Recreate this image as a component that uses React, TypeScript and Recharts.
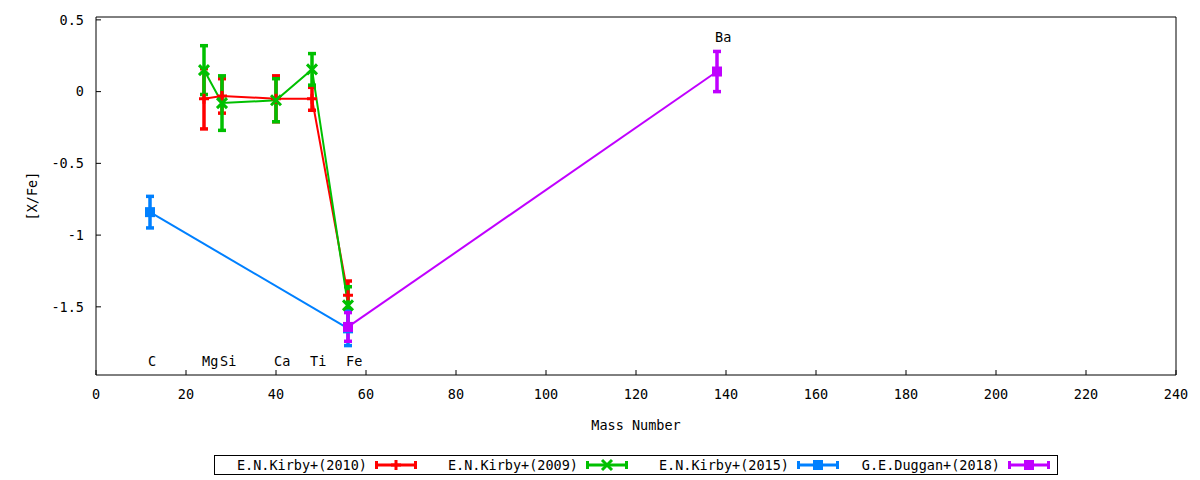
import { ComposedChart, Line, Scatter, XAxis, YAxis, ErrorBar, Label } from 'recharts'

const FONT = '"DejaVu Sans Mono", monospace'

// element labels drawn along the bottom (and Ba above its point)
const elementNames = ['C', 'Mg', 'Si', 'Ca', 'Ti', 'Fe', 'Ba']
const elementMass = [12, 24, 28, 40, 48, 56, 138]
const elementLabelY = [-1.88, -1.88, -1.88, -1.88, -1.88, -1.88, 0.38]

// E.N.Kirby+(2010): Mg Si Ca Ti Fe
const kirby2010Mass = [24, 28, 40, 48, 56]
const kirby2010Val = [-0.05, -0.03, -0.05, -0.05, -1.42]
const kirby2010Err = [0.21, 0.12, 0.16, 0.08, 0.1]

// E.N.Kirby+(2009): Mg Si Ca Ti Fe
const kirby2009Mass = [24, 28, 40, 48, 56]
const kirby2009Val = [0.15, -0.08, -0.06, 0.155, -1.49]
const kirby2009Err = [0.17, 0.19, 0.15, 0.11, 0.13]

// E.N.Kirby+(2015): C Fe
const kirby2015Mass = [12, 56]
const kirby2015Val = [-0.84, -1.65]
const kirby2015Err = [0.11, 0.12]

// G.E.Duggan+(2018): Fe Ba
const duggan2018Mass = [56, 138]
const duggan2018Val = [-1.64, 0.14]
const duggan2018Err = [0.1, 0.14]

const xTicks = [0, 20, 40, 60, 80, 100, 120, 140, 160, 180, 200, 220, 240]
const yTicks = [0.5, 0, -0.5, -1, -1.5]

const toRows = (xs: number[], ys: number[], es: number[]) =>
  xs.map((x, i) => ({ x, y: ys[i], err: es[i] }))

type Marker = 'plus' | 'cross' | 'square'

const series = [
  { name: 'E.N.Kirby+(2010)', color: '#ff0000', marker: 'plus' as Marker, data: toRows(kirby2010Mass, kirby2010Val, kirby2010Err) },
  { name: 'E.N.Kirby+(2009)', color: '#00c000', marker: 'cross' as Marker, data: toRows(kirby2009Mass, kirby2009Val, kirby2009Err) },
  { name: 'E.N.Kirby+(2015)', color: '#0080ff', marker: 'square' as Marker, data: toRows(kirby2015Mass, kirby2015Val, kirby2015Err) },
  { name: 'G.E.Duggan+(2018)', color: '#c000ff', marker: 'square' as Marker, data: toRows(duggan2018Mass, duggan2018Val, duggan2018Err) },
]

const labelRows = elementNames.map((name, i) => ({ name, x: elementMass[i], y: elementLabelY[i] }))

function markerPath(marker: Marker, cx: number, cy: number, color: string, key?: string) {
  if (marker === 'square') {
    return <rect key={key} x={cx - 5} y={cy - 5} width={10} height={10} fill={color} />
  }
  const d =
    marker === 'plus'
      ? `M${cx - 5},${cy}H${cx + 5}M${cx},${cy - 5}V${cy + 5}`
      : `M${cx - 5},${cy - 5}L${cx + 5},${cy + 5}M${cx + 5},${cy - 5}L${cx - 5},${cy + 5}`
  return <path key={key} d={d} stroke={color} strokeWidth={3} fill="none" />
}

const tickStyle = { fill: '#000', fontSize: 13.5, fontFamily: FONT }

function LegendBox() {
  const left = 214
  const step = 211
  return (
    <svg width={1200} height={480} style={{ position: 'absolute', left: 0, top: 0, pointerEvents: 'none' }}>
      <rect x={214.5} y={455.5} width={843} height={19} fill="none" stroke="#000" strokeWidth={1} />
      {series.map((s, i) => {
        const sx = left + 161 + i * step
        const cy = 465
        return (
          <g key={s.name}>
            <text x={sx - 8} y={cy} textAnchor="end" dominantBaseline="central" fontFamily={FONT} fontSize={13.5} fill="#000">
              {s.name}
            </text>
            <line x1={sx} y1={cy} x2={sx + 42} y2={cy} stroke={s.color} strokeWidth={3} />
            <line x1={sx + 1.5} y1={cy - 4} x2={sx + 1.5} y2={cy + 4} stroke={s.color} strokeWidth={3} />
            <line x1={sx + 40.5} y1={cy - 4} x2={sx + 40.5} y2={cy + 4} stroke={s.color} strokeWidth={3} />
            {markerPath(s.marker, sx + 21, cy, s.color)}
          </g>
        )
      })}
    </svg>
  )
}

export default function App() {
  return (
    <div style={{ position: 'relative', width: 1200, height: 480 }}>
      <style>{'body{margin:0;background:#fff}'}</style>
      <ComposedChart width={1200} height={480} margin={{ top: 0, right: 0, bottom: 45, left: 0 }}>
        <XAxis
          xAxisId={0}
          dataKey="x"
          type="number"
          domain={[0, 240]}
          ticks={xTicks}
          allowDataOverflow
          height={60}
          tickSize={-5}
          tickMargin={19}
          tick={tickStyle}
          stroke="#000"
          interval={0}
        >
          <Label value="Mass Number" position="insideBottom" offset={5} style={{ fontFamily: FONT, fontSize: 13.5, fill: '#000' }} />
        </XAxis>
        <XAxis
          xAxisId="top"
          orientation="top"
          type="number"
          domain={[0, 240]}
          ticks={xTicks}
          allowDataOverflow
          height={17}
          tickSize={-5}
          tick={false}
          stroke="#000"
          interval={0}
        />
        <YAxis
          yAxisId={0}
          type="number"
          domain={[-1.975, 0.52]}
          ticks={yTicks}
          allowDataOverflow
          width={96}
          tickSize={-5}
          tickMargin={17}
          tick={tickStyle}
          stroke="#000"
          interval={0}
        >
          <Label
            value="[X/Fe]"
            position="insideLeft"
            angle={-90}
            offset={32}
            style={{ fontFamily: FONT, fontSize: 13.5, fill: '#000', textAnchor: 'middle' }}
          />
        </YAxis>
        <YAxis
          yAxisId="right"
          orientation="right"
          type="number"
          domain={[-1.975, 0.52]}
          ticks={yTicks}
          allowDataOverflow
          width={24}
          tickSize={-5}
          tick={false}
          stroke="#000"
          interval={0}
        />
        {series.map((s) => (
          <Line
            key={s.name}
            data={s.data}
            dataKey="y"
            name={s.name}
            stroke={s.color}
            strokeWidth={2}
            type="linear"
            isAnimationActive={false}
            dot={(p: any) => markerPath(s.marker, p.cx, p.cy, s.color, `${s.name}-${p.index}`)}
            activeDot={false}
          >
            <ErrorBar dataKey="err" direction="y" stroke={s.color} strokeWidth={3.5} width={4} isAnimationActive={false} />
          </Line>
        ))}
        <Scatter
          data={labelRows}
          dataKey="y"
          isAnimationActive={false}
          shape={(p: any) => (
            <text x={p.cx - 2} y={p.cy} dominantBaseline="central" fontFamily={FONT} fontSize={13.5} fill="#000">
              {p.payload.name}
            </text>
          )}
        />
      </ComposedChart>
      <LegendBox />
    </div>
  )
}
